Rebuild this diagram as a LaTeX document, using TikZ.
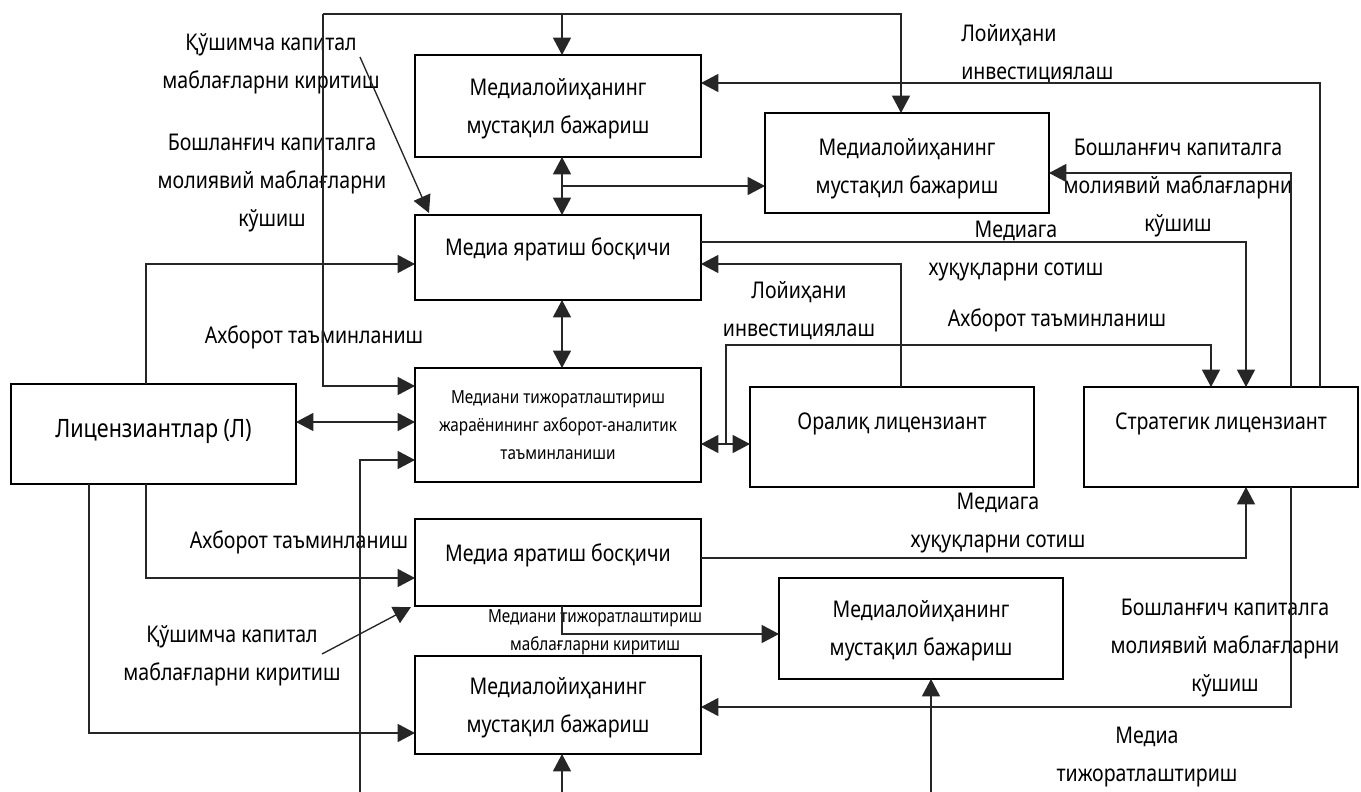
\documentclass[tikz,border=0pt]{standalone}
\usepackage{fontspec}
\setmainfont[FakeStretch=0.85]{Noto Sans}
\usetikzlibrary{arrows.meta,calc}
\newcommand{\mkbox}[8]{% name x1 y1 x2 y2 raise fontstyle text
  \node[box,#7, minimum width={(#4-#2)*0.75pt}, minimum height={(#5-#3)*0.75pt}] (#1) at ({(#2+#4)/2},{(#3+#5)/2})
  {\raisebox{#6}[0pt][0pt]{\begin{tabular}{@{}c@{}}#8\end{tabular}}};}
\tikzset{
  box/.style={draw=black, line width=2pt, inner sep=0pt, outer sep=0pt},
  bigf/.style={font=\fontsize{17.25pt}{28.5pt}\selectfont},
  smallf/.style={font=\fontsize{13.5pt}{21pt}\selectfont},
  licf/.style={font=\fontsize{19pt}{28pt}\selectfont},
  lbl/.style={bigf, align=center, inner sep=0pt},
  slbl/.style={smallf, align=center, inner sep=0pt},
  conn/.style={draw=black!85, line width=1pt},
  arr/.style={conn, -{Triangle[length=13pt,width=13.5pt]}},
  darr/.style={conn, {Triangle[length=13pt,width=13.5pt]}-{Triangle[length=13pt,width=13.5pt]}},
}
\begin{document}
\begin{tikzpicture}[x=0.75pt,y=-0.75pt]
\fill[white] (0,0) rectangle (1361,792);
\useasboundingbox (0,0) rectangle (1361,792);

% boxes
\mkbox{b1}{415}{55}{701}{157}{-5pt}{bigf}{Медиалойиҳанинг\\мустақил бажариш}
\mkbox{b2}{765}{113}{1049}{213}{-7.5pt}{bigf}{Медиалойиҳанинг\\мустақил бажариш}
\mkbox{b3}{415}{215}{701}{300}{3pt}{bigf}{Медиа яратиш босқичи}
\mkbox{cb}{415}{368}{701}{482}{-4pt}{smallf}{Медиани тижоратлаштириш\\жараёнининг ахборот-аналитик\\таъминланиши}
\mkbox{ol}{750}{387}{1034}{487}{7pt}{bigf}{Оралиқ лицензиант}
\mkbox{sl}{1084}{387}{1358}{487}{7pt}{bigf}{Стратегик лицензиант}
\mkbox{lic}{11}{384}{296}{484}{-1pt}{licf}{Лицензиантлар (Л)}
\mkbox{b8}{415}{519}{701}{606}{2.4pt}{bigf}{Медиа яратиш босқичи}
\mkbox{b9}{779}{578}{1063}{679}{-4.4pt}{bigf}{Медиалойиҳанинг\\мустақил бажариш}
\mkbox{b10}{415}{656}{701}{754}{-4.7pt}{bigf}{Медиалойиҳанинг\\мустақил бажариш}

% labels
\node[lbl] (L1) at (271,63.5) {Қўшимча капитал\\маблағларни киритиш};
\node[lbl] (L2) at (272,183) {Бошланғич капиталга\\молиявий маблағларни\\кўшиш};
\node[lbl, align=left, anchor=west] (L3) at (961,54) {Лойиҳани\\инвестициялаш};
\node[lbl] (L4) at (1178,188) {Бошланғич капиталга\\молиявий маблағларни\\кўшиш};
\node[lbl] (L5) at (1016,251) {Медиага\\хуқуқларни сотиш};
\node[lbl] (L6) at (799,311) {Лойиҳани\\инвестициялаш};
\node[lbl] (L7) at (1057,320) {Ахборот таъминланиш};
\node[lbl] (L8) at (314,337) {Ахборот таъминланиш};
\node[lbl] (L9) at (299,542) {Ахборот таъминланиш};
\node[lbl] (L10) at (232,656) {Қўшимча капитал\\маблағларни киритиш};
\node[slbl] (L11) at (595,632) {Медиани тижоратлаштириш\\маблағларни киритиш};
\node[lbl] (L12) at (998,523.5) {Медиага\\хуқуқларни сотиш};
\node[lbl] (L13) at (1225,648) {Бошланғич капиталга\\молиявий маблағларни\\кўшиш};
\node[lbl] (L14) at (1147,757.5) {Медиа\\тижоратлаштириш};

% route coordinates
\coordinate (tl) at (323,14);
\coordinate (tm) at (562,14);
\coordinate (tr) at (901,14);
\coordinate (lc) at (323,386);
\coordinate (r1) at (1320,83);
\coordinate (r2) at (1291,173);
\coordinate (j1) at (562,186);
\coordinate (r3) at (1246,242);
\coordinate (r4) at (901,264);
\coordinate (m1) at (726,444);
\coordinate (r5) at (726,345);
\coordinate (r6) at (1211,345);
\coordinate (l1) at (146,264);
\coordinate (h1) at (300,422);
\coordinate (l2) at (360,460);
\coordinate (l2b) at (360,792);
\coordinate (l3) at (146,578);
\coordinate (l4) at (89,733);
\coordinate (d1) at (322,654);
\coordinate (d2) at (360,57);
\coordinate (q1) at (562,634);
\coordinate (q2) at (1246,558);
\coordinate (q3) at (1291,707);
\coordinate (q4) at (562,792);
\coordinate (q5) at (931,792);

% connectors
\draw[arr] (tl) -- (lc) -- (lc -| cb.west);
\draw[arr] (tl) -- (tr) -- (tr |- b2.north);
\draw[arr] (tm) -- (tm |- b1.north);
\draw[arr] (r1 |- sl.north) -- (r1) -- (r1 -| b1.east);
\draw[arr] (r2 |- sl.north) -- (r2) -- (r2 -| b2.east);
\draw[darr] (tm |- b1.south) -- (tm |- b3.north);
\draw[arr] (j1) -- (j1 -| b2.west);
\draw[arr] (r3 -| b3.east) -- (r3) -- (r3 |- sl.north);
\draw[arr] (r4 |- ol.north) -- (r4) -- (r4 -| b3.east);
\draw[darr] (m1 -| cb.east) -- (m1 -| ol.west);
\draw[arr] (m1) -- (r5) -- (r6) -- (r6 |- sl.north);
\draw[arr] (l1 |- lic.north) -- (l1) -- (l1 -| b3.west);
\draw[darr] (h1 -| lic.east) -- (h1 -| cb.west);
\draw[arr] (l2b) -- (l2) -- (l2 -| cb.west);
\draw[arr] (l3 |- lic.south) -- (l3) -- (l3 -| b8.west);
\draw[arr] (l4 |- lic.south) -- (l4) -- (l4 -| b10.west);
\draw[arr] (d1) -- ($(b8.south west)+(-4,1)$);
\draw[arr] (d2) -- ($(b3.north west)+(14,-2)$);
\draw[darr] (tm |- b3.south) -- (tm |- cb.north);
\draw[arr] (q1 |- b8.south) -- (q1) -- (q1 -| b9.west);
\draw[arr] (q2 -| b8.east) -- (q2) -- (q2 |- sl.south);
\draw[arr] (q3 |- sl.south) -- (q3) -- (q3 -| b10.east);
\draw[arr] (q4) -- (q4 |- b10.south);
\draw[arr] (q5) -- (q5 |- b9.south);
\end{tikzpicture}
\end{document}
